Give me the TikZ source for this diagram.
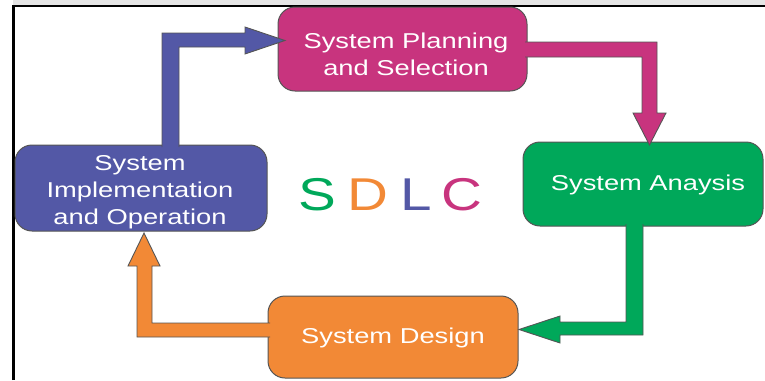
\documentclass[tikz,border=0pt]{standalone}
\usepackage{fontspec}
\newfontfamily\wf[FakeStretch=1.27]{Liberation Sans}
\newfontfamily\wfb[FakeStretch=1.23]{Liberation Sans}
\definecolor{cmag}{RGB}{200,52,126}
\definecolor{cgrn}{RGB}{0,168,90}
\definecolor{cblu}{RGB}{83,88,166}
\definecolor{corg}{RGB}{242,137,54}
\definecolor{outl}{RGB}{85,85,85}
\begin{document}
\begin{tikzpicture}[x=1pt,y=-1pt,
  box/.style={draw=outl,line width=1pt,rounded corners=17pt,inner sep=0pt},
  blockarrow/.style={draw=outl,line width=0.9pt,line join=miter},
  txt/.style={text=white,font=\wf\fontsize{21.5}{27}\selectfont,align=center,inner sep=0pt},
  big/.style={font=\wfb\fontsize{46}{50}\selectfont,inner sep=0pt,anchor=base}]
\useasboundingbox (0,0) rectangle (765,380);
% frame
\fill[black!10] (13,0) rectangle (765,4.6);
\draw[line width=2.2pt] (13.5,380) -- (13.5,5.7) -- (765,5.7);
% boxes
\node[box,fill=cmag,minimum width=249pt,minimum height=84pt] (plan) at (402.5,49) {};
\node[box,fill=cgrn,minimum width=240pt,minimum height=84pt] (ana) at (643,184) {};
\node[box,fill=cblu,minimum width=252pt,minimum height=86pt] (impl) at (141,188) {};
\node[box,fill=corg,minimum width=250pt,minimum height=82pt] (des) at (393,337) {};
% block arrows
\filldraw[blockarrow,fill=cblu] (162,147) -- (162,33) -- (245,33) -- (245,27) -- (285,40.5) -- (245,54) -- (245,47) -- (179,47) -- (179,147);
\filldraw[blockarrow,fill=cmag] (525,42) -- (657,42) -- (657,113) -- (666,113) -- (649.5,145) -- (633,113) -- (642,113) -- (642,57) -- (525,57);
\filldraw[blockarrow,fill=cgrn] (626,224) -- (626,322) -- (560,322) -- (560,316) -- (519,329.5) -- (560,343) -- (560,335) -- (643,335) -- (643,224);
\filldraw[blockarrow,fill=corg] (270,323) -- (152,323) -- (152,266) -- (160,266) -- (144,233) -- (128,266) -- (137,266) -- (137,337) -- (270,337);
% texts
\node[txt] (plantxt) at (406,54.3) {System Planning\\and Selection};
\node[txt] (impltxt) at (140,192.5) {System\\Implementation\\and Operation};
\node[txt,anchor=base] (anatxt) at (648,190) {System Anaysis};
\node[txt,anchor=base] (destxt) at (393,343) {System Design};
% SDLC
\node[big,text=cgrn] (s) at (317.5,210) {S};
\node[big,text=corg] (d) at (367.5,210) {D};
\node[big,text=cblu] (l) at (416,210) {L};
\node[big,text=cmag] (c) at (461.5,210) {C};
\end{tikzpicture}
\end{document}
